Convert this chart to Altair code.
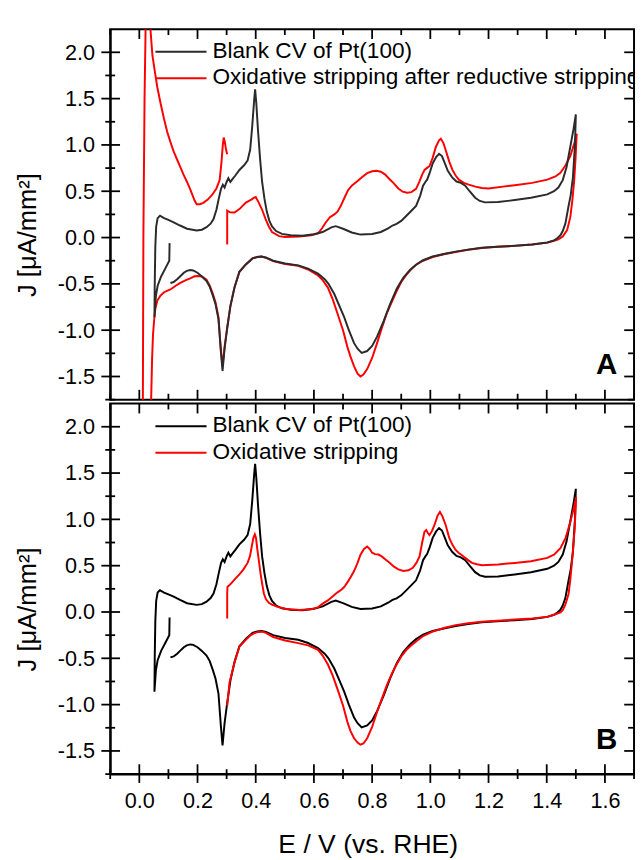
import altair as alt
import pandas as pd

FONT = "Liberation Sans"
RED = "#ff0000"

# ---------------- data ----------------
BLANK_E = [0.104, 0.103, 0.09, 0.075, 0.063, 0.057, 0.052,
           0.053, 0.055, 0.058, 0.063, 0.071, 0.085, 0.1, 0.118, 0.14, 0.164, 0.197, 0.215, 0.231, 0.245,
           0.255, 0.265, 0.273, 0.281, 0.287, 0.293, 0.3, 0.306, 0.313, 0.32, 0.33, 0.344, 0.36, 0.372,
           0.381, 0.388, 0.395, 0.398, 0.402, 0.408, 0.415, 0.422, 0.43, 0.438, 0.447, 0.456, 0.47, 0.49,
           0.52, 0.56, 0.6, 0.63, 0.66, 0.675, 0.7, 0.73, 0.76, 0.8, 0.83, 0.855, 0.87, 0.884, 0.9, 0.918,
           0.935, 0.951, 0.965, 0.975, 0.983, 0.989, 0.998, 1.008, 1.02, 1.03, 1.04, 1.05, 1.06, 1.075,
           1.09, 1.105, 1.12, 1.135, 1.154, 1.17, 1.188, 1.233, 1.29, 1.346, 1.402, 1.425, 1.44, 1.455,
           1.468, 1.481, 1.492, 1.5,
           1.497, 1.49, 1.482, 1.475, 1.464, 1.455, 1.447, 1.435, 1.425, 1.402, 1.35, 1.29, 1.23, 1.177,
           1.13, 1.087, 1.05, 1.008, 0.975, 0.951, 0.93, 0.907, 0.885, 0.862, 0.84, 0.817, 0.8, 0.783,
           0.764, 0.75, 0.738, 0.72, 0.704, 0.685, 0.67, 0.65, 0.637, 0.614, 0.58, 0.546, 0.501, 0.46,
           0.435, 0.42, 0.405, 0.389, 0.366, 0.344, 0.327, 0.313, 0.302, 0.293, 0.286, 0.28, 0.272, 0.262,
           0.253, 0.242, 0.231, 0.215, 0.2, 0.185, 0.175, 0.163, 0.153, 0.14, 0.13, 0.118, 0.107]
BLANK_J = [-0.06, -0.25, -0.33, -0.42, -0.52, -0.63, -0.86,
           -0.5, -0.1, 0.12, 0.21, 0.236, 0.21, 0.19, 0.165, 0.13, 0.095, 0.077, 0.085, 0.112, 0.15,
           0.2, 0.3, 0.42, 0.53, 0.57, 0.54, 0.6, 0.64, 0.6, 0.63, 0.67, 0.73, 0.78, 0.83,
           0.95, 1.2, 1.5, 1.6, 1.45, 1.15, 0.85, 0.6, 0.42, 0.28, 0.18, 0.12, 0.07, 0.04,
           0.025, 0.02, 0.035, 0.06, 0.11, 0.123, 0.095, 0.055, 0.032, 0.038, 0.06, 0.1, 0.13, 0.148, 0.18, 0.236,
           0.29, 0.342, 0.45, 0.56, 0.6, 0.625, 0.7, 0.8, 0.87, 0.905, 0.88, 0.8, 0.72, 0.65,
           0.605, 0.59, 0.56, 0.5, 0.43, 0.395, 0.38, 0.383, 0.405, 0.43, 0.466, 0.5, 0.54, 0.62,
           0.76, 0.98, 1.17, 1.33,
           1.0, 0.65, 0.45, 0.34, 0.15, 0.07, 0.024, -0.01, -0.03, -0.053, -0.075, -0.089, -0.1, -0.11,
           -0.13, -0.152, -0.175, -0.205, -0.245, -0.293, -0.35, -0.434, -0.55, -0.717, -0.9, -1.07, -1.17, -1.225,
           -1.245, -1.2, -1.14, -1.0, -0.86, -0.72, -0.61, -0.5, -0.45, -0.39, -0.335, -0.3, -0.28, -0.25,
           -0.215, -0.205, -0.21, -0.225, -0.29, -0.37, -0.54, -0.74, -0.98, -1.2, -1.44, -1.22, -0.88, -0.72,
           -0.63, -0.53, -0.47, -0.42, -0.38, -0.355, -0.35, -0.36, -0.38, -0.42, -0.45, -0.48, -0.49]

RED_A_E = [0.302, 0.302, 0.312, 0.327, 0.345, 0.366, 0.385, 0.394, 0.4, 0.41, 0.422, 0.434, 0.445, 0.456,
           0.48, 0.501, 0.55, 0.59, 0.614, 0.628, 0.64, 0.655, 0.67, 0.681, 0.692, 0.705, 0.717, 0.73, 0.749,
           0.765, 0.783, 0.8, 0.815, 0.83, 0.845, 0.86, 0.873, 0.89, 0.905, 0.92, 0.935, 0.951, 0.962, 0.972,
           0.98, 0.99, 0.997, 1.008, 1.019, 1.03, 1.036, 1.045, 1.053, 1.065, 1.076, 1.087, 1.098, 1.115,
           1.132, 1.155, 1.177, 1.2, 1.25, 1.29, 1.35, 1.402, 1.43, 1.447, 1.465, 1.481, 1.495, 1.503,
           1.499, 1.494, 1.488, 1.481, 1.47, 1.455, 1.44, 1.425, 1.402, 1.35, 1.29, 1.23, 1.177, 1.13, 1.087,
           1.05, 1.008, 0.975, 0.951, 0.935, 0.918, 0.9, 0.884, 0.867, 0.85, 0.833, 0.817, 0.8, 0.783, 0.77,
           0.76, 0.75, 0.738, 0.725, 0.715, 0.7, 0.681, 0.665, 0.648, 0.63, 0.614, 0.58, 0.546, 0.501, 0.46,
           0.435, 0.42, 0.405, 0.389, 0.366, 0.344, 0.327, 0.313, 0.302, 0.293, 0.286, 0.28, 0.272, 0.262,
           0.253, 0.242, 0.231, 0.215, 0.2, 0.19, 0.175, 0.16, 0.141, 0.125, 0.107, 0.095, 0.085, 0.072,
           0.062, 0.055, 0.051, 0.047, 0.044, 0.041, 0.038, 0.03, 0.02, 0.012, 0.014, 0.018, 0.022, 0.03,
           0.037, 0.045, 0.053, 0.062, 0.073, 0.085, 0.096, 0.107, 0.118, 0.13, 0.141, 0.152, 0.164, 0.175,
           0.19, 0.197, 0.208, 0.22, 0.235, 0.25, 0.265, 0.276, 0.282, 0.287, 0.29, 0.294, 0.298, 0.302]
RED_A_J = [-0.074, 0.29, 0.272, 0.271, 0.31, 0.377, 0.41, 0.43, 0.437, 0.38, 0.3, 0.2, 0.12, 0.06,
           0.015, 0.005, 0.01, 0.025, 0.045, 0.1, 0.16, 0.22, 0.25, 0.28, 0.34, 0.43, 0.51, 0.56, 0.607,
           0.65, 0.695, 0.715, 0.72, 0.71, 0.68, 0.63, 0.59, 0.53, 0.495, 0.485, 0.49, 0.525, 0.6, 0.68,
           0.73, 0.755, 0.77, 0.86, 0.978, 1.05, 1.066, 1.02, 0.943, 0.82, 0.73, 0.67, 0.625, 0.59,
           0.572, 0.55, 0.536, 0.53, 0.55, 0.565, 0.59, 0.625, 0.66, 0.7, 0.78, 0.88, 1.02, 1.12,
           0.85, 0.6, 0.4, 0.22, 0.08, 0.01, -0.02, -0.035, -0.055, -0.075, -0.09, -0.1, -0.112, -0.132, -0.155,
           -0.178, -0.21, -0.25, -0.293, -0.34, -0.4, -0.48, -0.58, -0.7, -0.82, -0.98, -1.14, -1.3, -1.42, -1.48,
           -1.5, -1.47, -1.39, -1.28, -1.18, -1.0, -0.82, -0.67, -0.54, -0.46, -0.41, -0.345, -0.305, -0.285, -0.255,
           -0.22, -0.205, -0.21, -0.225, -0.29, -0.37, -0.54, -0.74, -0.97, -1.18, -1.39, -1.2, -0.86, -0.7,
           -0.61, -0.52, -0.455, -0.42, -0.415, -0.418, -0.44, -0.46, -0.49, -0.52, -0.56, -0.575, -0.59, -0.63,
           -0.68, -0.77, -0.89, -1.05, -1.3, -1.7, -2.1, -2.3, -2.3, -2.0, 0.0, 1.5, 2.35, 2.45,
           2.3, 1.97, 1.8, 1.62, 1.45, 1.28, 1.14, 1.03, 0.93, 0.84, 0.76, 0.68, 0.6, 0.52,
           0.4, 0.36, 0.36, 0.375, 0.41, 0.46, 0.53, 0.62, 0.8, 1.0, 1.08, 1.03, 0.95, 0.9]

RED_B_E = [0.302, 0.302, 0.303, 0.31, 0.318, 0.33, 0.344, 0.358, 0.372, 0.38, 0.386, 0.392, 0.397, 0.401,
           0.405, 0.411, 0.417, 0.423, 0.428, 0.435, 0.445, 0.456, 0.475, 0.501, 0.55, 0.59, 0.614, 0.63,
           0.648, 0.665, 0.681, 0.694, 0.704, 0.715, 0.727, 0.738, 0.75, 0.76, 0.772, 0.783, 0.792, 0.8,
           0.81, 0.822, 0.833, 0.847, 0.861, 0.875, 0.89, 0.907, 0.925, 0.94, 0.952, 0.963, 0.972, 0.98,
           0.986, 0.992, 0.997, 1.005, 1.014, 1.025, 1.033, 1.042, 1.053, 1.065, 1.076, 1.087, 1.098, 1.11,
           1.12, 1.132, 1.143, 1.16, 1.177, 1.233, 1.29, 1.346, 1.402, 1.425, 1.447, 1.465, 1.481, 1.493,
           1.501, 1.499, 1.496, 1.491, 1.487, 1.481, 1.475, 1.464, 1.455, 1.447, 1.425, 1.402, 1.35, 1.29,
           1.23, 1.177, 1.13, 1.087, 1.05, 1.008, 0.975, 0.951, 0.935, 0.918, 0.9, 0.884, 0.867, 0.85,
           0.833, 0.817, 0.8, 0.783, 0.77, 0.76, 0.75, 0.738, 0.725, 0.715, 0.7, 0.681, 0.665, 0.648, 0.63,
           0.614, 0.58, 0.546, 0.501, 0.46, 0.435, 0.422, 0.41, 0.4, 0.383, 0.366, 0.344, 0.327, 0.31, 0.302]
RED_B_J = [-0.07, 0.2, 0.272, 0.29, 0.318, 0.36, 0.407, 0.46, 0.53, 0.6, 0.7, 0.8, 0.839, 0.8,
           0.69, 0.55, 0.407, 0.29, 0.2, 0.14, 0.1, 0.08, 0.055, 0.035, 0.022, 0.03, 0.05, 0.09,
           0.125, 0.17, 0.212, 0.24, 0.27, 0.32, 0.38, 0.442, 0.53, 0.619, 0.68, 0.707, 0.68, 0.64,
           0.625, 0.62, 0.6, 0.565, 0.53, 0.49, 0.46, 0.442, 0.45, 0.478, 0.53, 0.6, 0.75, 0.866,
           0.884, 0.85, 0.831, 0.87, 0.937, 1.04, 1.08, 1.03, 0.937, 0.8, 0.725, 0.67, 0.637, 0.61,
           0.584, 0.555, 0.53, 0.515, 0.505, 0.513, 0.53, 0.548, 0.584, 0.62, 0.69, 0.8, 0.972, 1.12,
           1.238, 1.1, 0.9, 0.7, 0.548, 0.35, 0.195, 0.08, 0.02, -0.005, -0.03, -0.053, -0.07, -0.082,
           -0.095, -0.106, -0.122, -0.142, -0.17, -0.212, -0.26, -0.318, -0.36, -0.408, -0.48, -0.567, -0.67, -0.796,
           -0.94, -1.08, -1.24, -1.363, -1.42, -1.433, -1.41, -1.363, -1.28, -1.186, -1.01, -0.832, -0.69, -0.567, -0.47,
           -0.408, -0.36, -0.336, -0.308, -0.27, -0.225, -0.212, -0.215, -0.223, -0.25, -0.301, -0.372, -0.549, -0.761, -1.01]

NAMES_A = ["Blank CV of Pt(100)", "Oxidative stripping after reductive stripping"]
NAMES_B = ["Blank CV of Pt(100)", "Oxidative stripping"]
LETTERS = ["A", "B"]

Y_MAJOR = [-1.5, -1.0, -0.5, 0.0, 0.5, 1.0, 1.5, 2.0]
Y_MINOR = [-1.75, -1.25, -0.75, -0.25, 0.25, 0.75, 1.25, 1.75]
X_MAJOR = [0.0, 0.2, 0.4, 0.6, 0.8, 1.0, 1.2, 1.4, 1.6]
X_MINOR = [-0.1, 0.1, 0.3, 0.5, 0.7, 0.9, 1.1, 1.3, 1.5, 1.7]
X_DOMAIN = [-0.1, 1.7]
Y_DOMAIN = [-1.75, 2.25]

X_TITLE = "E / V (vs. RHE)"
Y_TITLE = "J [μA/mm²]"

# ---------------- layout ----------------
W, H = 533, 377
LBL = "datum.value < 0 ? '-' + format(-datum.value, '.1f') : format(datum.value, '.1f')"


def line_df(e, j):
    return pd.DataFrame({"E": e, "J": j, "i": list(range(len(e)))})


def panel(red_e, red_j, names, black_color, letter, show_x, red_on_top):
    xs = alt.Scale(domain=X_DOMAIN, nice=False, zero=False)
    ys = alt.Scale(domain=Y_DOMAIN, nice=False, zero=False)
    yaxis = alt.Axis(values=Y_MAJOR, labelExpr=LBL, ticks=False, grid=False, labelPadding=16,
                     labelFontSize=22, labelFont=FONT, labelColor="black", labelFlush=False,
                     labelOverlap=False, domainColor="black", domainWidth=2,
                     title=Y_TITLE, titleFont=FONT, titleFontSize=26, titleFontWeight="normal",
                     titleColor="black", titleAngle=270, titleAlign="center",
                     titleBaseline="alphabetic", titleX=-76, titleY=209)
    if show_x:
        xaxis = alt.Axis(values=X_MAJOR, format=".1f", ticks=False, grid=False, labelPadding=17,
                         labelFontSize=22, labelFont=FONT, labelColor="black", labelFlush=False,
                         labelOverlap=False, domainColor="black", domainWidth=2,
                         title=X_TITLE, titleFont=FONT, titleFontSize=27, titleFontWeight="normal",
                         titleColor="black", titleAlign="center", titleBaseline="alphabetic",
                         titleX=262, titleY=80)
    else:
        xaxis = None

    def X(field):
        return alt.X(field, scale=xs, axis=xaxis)

    def Y(field):
        return alt.Y(field, scale=ys, axis=yaxis)

    black = alt.Chart(line_df(BLANK_E, BLANK_J)).mark_line(
        clip=True, color=black_color, strokeWidth=2).encode(x=X("E:Q"), y=Y("J:Q"), order="i:Q")
    red = alt.Chart(line_df(red_e, red_j)).mark_line(
        clip=True, color=RED, strokeWidth=2).encode(x=X("E:Q"), y=Y("J:Q"), order="i:Q")

    def yrule(vals, x1, x2):
        return alt.Chart(pd.DataFrame({"v": vals})).mark_rule(color="black", strokeWidth=1.8).encode(
            y=Y("v:Q"), x=alt.value(x1), x2=alt.value(x2))

    def xrule(vals, y1, y2):
        return alt.Chart(pd.DataFrame({"v": vals})).mark_rule(color="black", strokeWidth=1.8).encode(
            x=X("v:Q"), y=alt.value(y1), y2=alt.value(y2))

    ticks = [
        yrule(Y_MAJOR, -9, 10), yrule(Y_MINOR, -5, 5),
        yrule(Y_MAJOR, W - 10, W), yrule(Y_MINOR, W - 6, W),
        xrule(X_MAJOR, 0, 10), xrule(X_MINOR, 0, 6),
    ]
    if show_x:
        ticks += [xrule(X_MAJOR, H - 10, H + 9), xrule(X_MINOR, H - 5, H + 5)]
    else:
        ticks += [xrule(X_MAJOR, H - 10, H), xrule(X_MINOR, H - 6, H)]

    legend = []
    for k, (name, col) in enumerate(zip(names, [black_color, RED])):
        yy = 23 + 27 * k
        d = pd.DataFrame({"s": [name]})
        legend.append(alt.Chart(d).mark_rule(color=col, strokeWidth=2).encode(
            x=alt.value(46), x2=alt.value(98), y=alt.value(yy)))
        legend.append(alt.Chart(d).mark_text(align="left", baseline="middle", font=FONT, fontSize=23,
                                             color="black", clip=True).encode(
            x=alt.value(104), y=alt.value(yy - 1), text="s:N"))

    letter_mark = alt.Chart(pd.DataFrame({"s": [letter]})).mark_text(
        align="right", baseline="alphabetic", font=FONT, fontSize=30, fontWeight="bold",
        color="black").encode(x=alt.value(516), y=alt.value(351), text="s:N")

    curves = [black, red] if red_on_top else [red, black]
    return alt.layer(*curves, *ticks, *legend, letter_mark).properties(width=W, height=H)


pA = panel(RED_A_E, RED_A_J, NAMES_A, "#2b2b2b", LETTERS[0], False, False)
pB = panel(RED_B_E, RED_B_J, NAMES_B, "#000000", LETTERS[1], True, True)

chart = alt.vconcat(pA, pB, spacing=0).properties(
    padding={"left": 6, "top": 12, "right": 0, "bottom": 0}
).configure_view(stroke="black", strokeWidth=2)

chart.save("out.html", embed_options={"renderer": "svg", "actions": False})
